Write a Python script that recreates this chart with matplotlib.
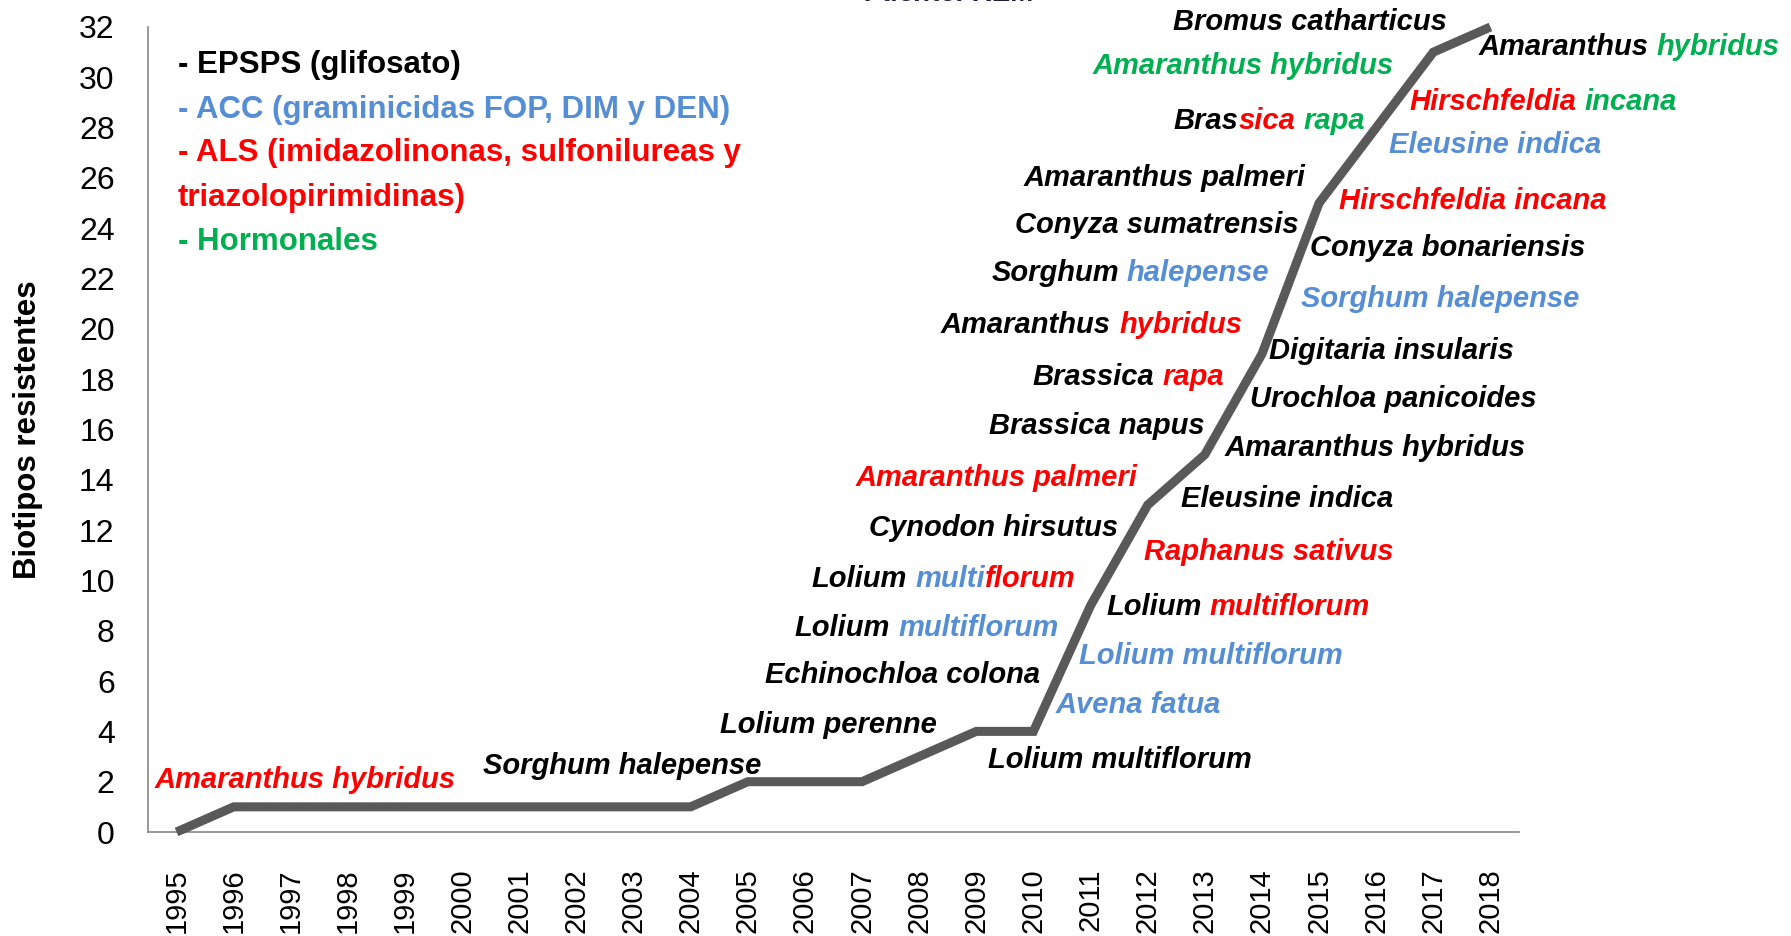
import matplotlib
matplotlib.use("Agg")
import matplotlib.pyplot as plt
from matplotlib import transforms

# datos
anios = list(range(1995, 2019))
biotipos = [0, 1, 1, 1, 1, 1, 1, 1, 1, 1, 2, 2, 2, 3, 4, 4, 9, 13, 15, 19, 25, 28, 31, 32]

K = 'black'
B = '#558ED5'
R = '#FF0000'
G = '#00B050'

leyenda = [
    ("- EPSPS (glifosato)", K),
    ("- ACC (graminicidas FOP, DIM y DEN)", B),
    ("- ALS (imidazolinonas, sulfonilureas y", R),
    ("triazolopirimidinas)", R),
    ("- Hormonales", G),
]

especies = [
    [("Amaranthus hybridus", R)],
    [("Sorghum halepense", K)],
    [("Lolium perenne", K)],
    [("Echinochloa colona", K)],
    [("Lolium", K), (" multiflorum", B)],
    [("Lolium", K), (" multi", B), ("florum", R)],
    [("Cynodon hirsutus", K)],
    [("Amaranthus palmeri", R)],
    [("Brassica napus", K)],
    [("Brassica", K), (" rapa", R)],
    [("Amaranthus", K), (" hybridus", R)],
    [("Sorghum", K), (" halepense", B)],
    [("Conyza sumatrensis", K)],
    [("Amaranthus palmeri", K)],
    [("Bras", K), ("sica", R), (" rapa", G)],
    [("Amaranthus hybridus", G)],
    [("Bromus catharticus", K)],
    [("Amaranthus", K), (" hybridus", G)],
    [("Hirschfeldia", R), (" incana", G)],
    [("Eleusine indica", B)],
    [("Hirschfeldia incana", R)],
    [("Conyza bonariensis", K)],
    [("Sorghum halepense", B)],
    [("Digitaria insularis", K)],
    [("Urochloa panicoides", K)],
    [("Amaranthus hybridus", K)],
    [("Eleusine indica", K)],
    [("Raphanus sativus", R)],
    [("Lolium", K), (" multiflorum", R)],
    [("Lolium multiflorum", B)],
    [("Avena fatua", B)],
    [("Lolium multiflorum", K)],
]

# posicion (borde izquierdo, centro vertical) de cada etiqueta en coordenadas de datos
pos_etiquetas = [
    (1994.61, 2.06), (2000.37, 2.61), (2004.52, 4.24), (2005.30, 6.24),
    (2005.82, 8.10), (2006.12, 10.05), (2007.12, 12.09), (2006.88, 14.09),
    (2009.22, 16.14), (2009.98, 18.09), (2008.38, 20.17), (2009.26, 22.22),
    (2009.68, 24.13), (2009.82, 25.99), (2012.45, 28.26), (2011.03, 30.44),
    (2012.45, 32.21), (2017.79, 31.21), (2016.59, 29.03), (2016.23, 27.30),
    (2015.35, 25.08), (2014.85, 23.22), (2014.69, 21.17), (2014.13, 19.13),
    (2013.79, 17.23), (2013.35, 15.27), (2012.59, 13.23), (2011.93, 11.14),
    (2011.27, 8.96), (2010.79, 7.01), (2010.38, 5.06), (2009.20, 2.88),
]

plt.rcParams['font.family'] = ['Liberation Sans', 'DejaVu Sans']

fig = plt.figure(figsize=(17.91, 9.36), dpi=100)
ax = fig.add_axes([148 / 1791, 1 - 832 / 936, 1371 / 1791, 805 / 936])

ax.plot(anios, biotipos, color='#595959', linewidth=6.5, solid_joinstyle='miter',
        solid_capstyle='butt', clip_on=False, zorder=3)

ax.set_xlim(1994.5, 2018.5)
ax.set_ylim(0, 32)
ax.set_xticks(anios)
ax.set_xticklabels([str(a) for a in anios], rotation=90, fontsize=21)
ax.set_yticks(range(0, 33, 2))
ax.tick_params(axis='x', length=0, pad=26)
ax.tick_params(axis='y', length=0, pad=24, labelsize=23)
for lab in ax.get_xticklabels():
    lab.set_verticalalignment('top')

for s in ['top', 'right']:
    ax.spines[s].set_visible(False)
for s in ['left', 'bottom']:
    ax.spines[s].set_color('#868686')
    ax.spines[s].set_linewidth(1.2)

ax.set_ylabel("Biotipos resistentes", fontsize=22.5, fontweight='bold')
ax.yaxis.set_label_coords(-0.0766, 0.5)

# leyenda de colores
y_ley = [30.48, 28.70, 26.99, 25.20, 23.45]
for (txt, col), yy in zip(leyenda, y_ley):
    ax.text(1995.02, yy, txt, color=col, fontsize=22.5, fontweight='bold', va='center', ha='left')

# etiquetas de especies con varios colores
renderer = fig.canvas.get_renderer()
fs = 21
espacio = 0.278 * fs * fig.dpi / 72
for segs, (x, y) in zip(especies, pos_etiquetas):
    dx = 0
    for txt, col in segs:
        n = len(txt) - len(txt.lstrip(' '))
        dx += n * espacio
        tr = transforms.offset_copy(ax.transData, x=dx, y=0, units='dots')
        t = ax.text(x, y, txt.strip(), color=col, fontsize=fs, fontweight='bold',
                    fontstyle='italic', va='center', ha='left', transform=tr,
                    clip_on=False, zorder=4)
        dx += t.get_window_extent(renderer).width

fig.text(865 / 1791, 1 - 1 / 936, "Fuente: REM", fontsize=20, fontweight='bold',
         fontstyle='italic', color='#1F1F3F', va='baseline', ha='left')

fig.savefig("out.png", dpi=100)
